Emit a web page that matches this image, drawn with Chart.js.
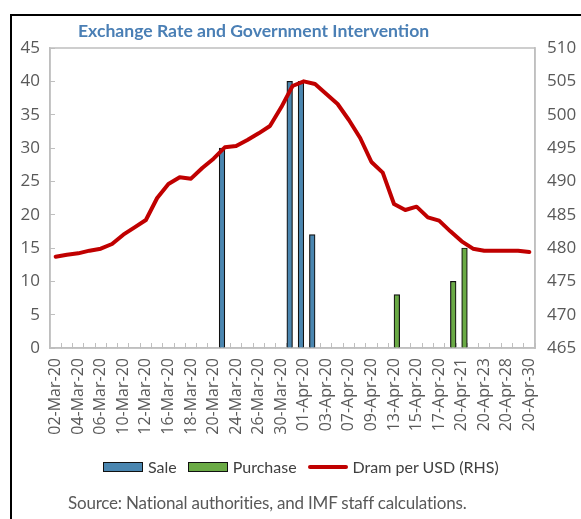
<!DOCTYPE html>
<html>
<head>
<meta charset="utf-8">
<script src="https://cdn.jsdelivr.net/npm/chart.js@4.4.1/dist/chart.umd.min.js"></script>
<style>
  html, body { margin: 0; padding: 0; background: #fff; }
  #wrap { position: relative; width: 581px; height: 519px; overflow: hidden; font-family: Lato, 'Open Sans', sans-serif; }
  #frame { position: absolute; left: 10px; top: 14px; width: 640px; height: 560px; border: 2px solid #000; }
  #chart { position: absolute; left: 0; top: 0; }
  #title { position: absolute; left: 78px; top: 20px; font-size: 17.6px; font-weight: bold; color: #4a7fb5; white-space: nowrap; }
  #legend { position: absolute; left: 103px; top: 457px; display: flex; align-items: center; font-size: 16px; color: #404040; white-space: nowrap; }
  #legend .box { display: inline-block; width: 38px; height: 8px; border: 1.5px solid #111; margin-right: 5px; }
  #legend .ln { display: inline-block; width: 40px; height: 4px; background: #c00000; border-radius: 2px; margin-right: 5px; }
  #legend .item { display: flex; align-items: center; margin-right: 11px; }
  #source { position: absolute; left: 68px; top: 492px; font-size: 17px; color: #595959; white-space: nowrap; letter-spacing: -0.2px; }
</style>
</head>
<body>
<div id="wrap">
  <div id="frame"></div>
  <canvas id="chart" width="581" height="519"></canvas>
  <div id="title">Exchange Rate and Government Intervention</div>
  <div id="legend">
    <span class="item"><span class="box" style="background:#4a86b0"></span>Sale</span>
    <span class="item"><span class="box" style="background:#6aaa45"></span>Purchase</span>
    <span class="item"><span class="ln"></span>Dram per USD (RHS)</span>
  </div>
  <div id="source">Source: National authorities, and IMF staff calculations.</div>
</div>
<script>
// Data
var dates = ['02-Mar-20', '03-Mar-20', '04-Mar-20', '05-Mar-20', '06-Mar-20', '09-Mar-20', '10-Mar-20',
    '11-Mar-20', '12-Mar-20', '13-Mar-20', '16-Mar-20', '17-Mar-20', '18-Mar-20', '19-Mar-20', '20-Mar-20',
    '23-Mar-20', '24-Mar-20', '25-Mar-20', '26-Mar-20', '27-Mar-20', '30-Mar-20', '31-Mar-20', '01-Apr-20',
    '02-Apr-20', '03-Apr-20', '06-Apr-20', '07-Apr-20', '08-Apr-20', '09-Apr-20', '10-Apr-20', '13-Apr-20',
    '14-Apr-20', '15-Apr-20', '16-Apr-20', '17-Apr-20', '20-Apr-20', '20-Apr-21', '20-Apr-22', '20-Apr-23',
    '20-Apr-27', '20-Apr-28', '20-Apr-29', '20-Apr-30'];

var saleValues = [null, null, null, null, null, null, null, null, null, null, null, null, null, null, null,
    30, null, null, null, null, null, 40, 40, 17, null, null, null, null, null, null, null,
    null, null, null, null, null, null, null, null, null, null, null, null];

var purchaseValues = [null, null, null, null, null, null, null, null, null, null, null, null, null, null, null,
    null, null, null, null, null, null, null, null, null, null, null, null, null, null, null, 8,
    null, null, null, null, 10, 15, null, null, null, null, null, null];

var dramPerUsd = [478.7, 479.0, 479.2, 479.6, 479.9, 480.6, 482.0, 483.1, 484.2, 487.5, 489.6, 490.6,
    490.4, 492.0, 493.4, 495.1, 495.3, 496.2, 497.2, 498.3, 501.1, 504.3, 505.0, 504.6, 503.1, 501.6,
    499.2, 496.5, 492.9, 491.3, 486.6, 485.7, 486.2, 484.6, 484.1, 482.5, 481.0, 479.9, 479.6, 479.6,
    479.6, 479.6, 479.4];

var axisGrey = '#bfbfbf';
var xFont = { family: "'Open Sans', sans-serif", size: 16 };
var yFont = { family: "'Open Sans', sans-serif", size: 17 };

// grey box round the plot area
var plotFrame = {
    id: 'plotFrame',
    beforeDatasetsDraw: function (chart) {
        var a = chart.chartArea;
        var c = chart.ctx;
        c.save();
        c.strokeStyle = axisGrey;
        c.lineWidth = 1.5;
        c.strokeRect(a.left, a.top, a.right - a.left, a.bottom - a.top);
        c.restore();
    }
};

var ctx = document.getElementById('chart').getContext('2d');
var chart = new Chart(ctx, {
    type: 'bar',
    data: {
        labels: dates,
        datasets: [
            {
                type: 'line',
                label: 'Dram per USD (RHS)',
                data: dramPerUsd,
                yAxisID: 'y2',
                borderColor: '#c00000',
                borderWidth: 4,
                pointRadius: 0,
                tension: 0,
                borderJoinStyle: 'round',
                borderCapStyle: 'round',
                fill: false,
                order: 0
            },
            {
                label: 'Sale',
                data: saleValues,
                yAxisID: 'y',
                backgroundColor: '#4a86b0',
                borderColor: '#111',
                borderWidth: 1.2,
                categoryPercentage: 1,
                barPercentage: 1,
                order: 1
            },
            {
                label: 'Purchase',
                data: purchaseValues,
                yAxisID: 'y',
                backgroundColor: '#6aaa45',
                borderColor: '#111',
                borderWidth: 1.2,
                categoryPercentage: 1,
                barPercentage: 1,
                order: 2
            }
        ]
    },
    options: {
        responsive: false,
        animation: false,
        layout: { padding: { top: 48, bottom: 71, left: 0, right: 0 } },
        plugins: {
            legend: { display: false },
            title: { display: false },
            tooltip: { enabled: false }
        },
        scales: {
            x: {
                offset: true,
                afterFit: function (s) { s.height = 100; },
                grid: { display: true, drawOnChartArea: false, offset: true, tickLength: -5, color: axisGrey, lineWidth: 1 },
                border: { display: true, color: axisGrey, width: 1.5 },
                ticks: {
                    autoSkip: false,
                    minRotation: 90,
                    maxRotation: 90,
                    padding: 15,
                    color: '#595959',
                    font: xFont,
                    callback: function (value, index) {
                        return index % 2 === 0 ? dates[index] : '';
                    }
                }
            },
            y: {
                position: 'left',
                min: 0,
                max: 45,
                afterFit: function (s) { s.width = 50; },
                grid: { display: true, drawOnChartArea: false, tickLength: -5, color: axisGrey },
                border: { display: true, color: axisGrey, width: 1.5 },
                ticks: { stepSize: 5, padding: 15, color: '#595959', font: yFont }
            },
            y2: {
                position: 'right',
                min: 465,
                max: 510,
                afterFit: function (s) { s.width = 46; },
                grid: { display: false, drawOnChartArea: false },
                border: { display: true, color: axisGrey, width: 1.5 },
                ticks: { stepSize: 5, padding: 4, color: '#595959', font: yFont }
            }
        }
    },
    plugins: [plotFrame]
});
</script>
</body>
</html>
